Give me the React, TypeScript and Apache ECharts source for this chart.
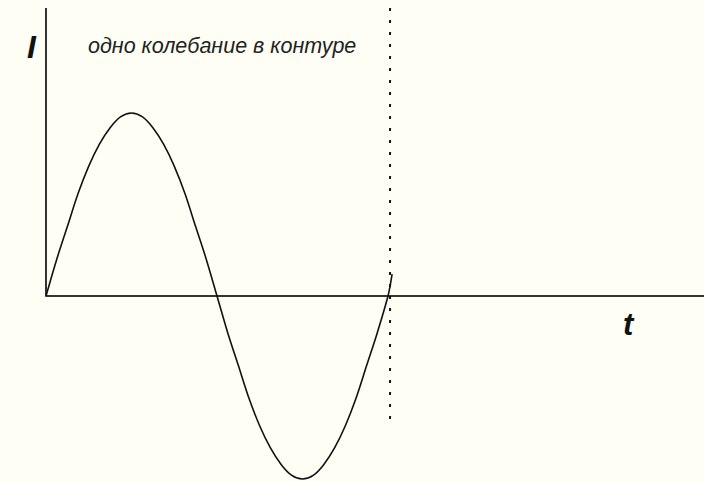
import React, { useEffect, useRef } from "react";
import * as echarts from "echarts";

// Time in periods T, current I in amplitude units
const timeValues = [
  0, 0.03125, 0.0625, 0.09375, 0.125, 0.15625, 0.1875, 0.21875, 0.25,
  0.28125, 0.3125, 0.34375, 0.375, 0.40625, 0.4375, 0.46875, 0.5,
  0.53125, 0.5625, 0.59375, 0.625, 0.65625, 0.6875, 0.71875, 0.75,
  0.78125, 0.8125, 0.84375, 0.875, 0.90625, 0.9375, 0.96875, 1.0, 1.012,
];
const currentValues = [
  0, 0.2, 0.38, 0.56, 0.71, 0.83, 0.92, 0.98, 1.0,
  0.98, 0.92, 0.83, 0.71, 0.56, 0.38, 0.2, 0,
  -0.2, -0.38, -0.56, -0.71, -0.83, -0.92, -0.98, -1.0,
  -0.98, -0.92, -0.83, -0.71, -0.56, -0.38, -0.2, 0, 0.12,
];
const periodMark = [1.006];
const periodMarkRange = [1.574, -0.689];
const axisRangeX = [0, 1.924];
const axisRangeY = [-1.016, 1.574];
const titleText = "одно колебание в контуре";
const yName = "I";
const xName = "t";

export default function App() {
  const ref = useRef<HTMLDivElement>(null);
  useEffect(() => {
    if (!ref.current) return;
    const chart = echarts.init(ref.current, null, { renderer: "svg" });
    const sine = timeValues.map((t, i) => [t, currentValues[i]]);
    chart.setOption({
      animation: false,
      backgroundColor: "#fefef4",
      grid: { left: 46, right: 0, top: 8, bottom: 0 },
      xAxis: {
        type: "value",
        min: axisRangeX[0],
        max: axisRangeX[1],
        axisLine: { show: true, onZero: true, lineStyle: { color: "#333", width: 2 } },
        axisTick: { show: false },
        axisLabel: { show: false },
        splitLine: { show: false },
      },
      yAxis: {
        type: "value",
        min: axisRangeY[0],
        max: axisRangeY[1],
        axisLine: { show: false },
        axisTick: { show: false },
        axisLabel: { show: false },
        splitLine: { show: false },
      },
      series: [
        {
          type: "line",
          data: [[0, 0], [0, axisRangeY[1]]],
          symbol: "none",
          lineStyle: { color: "#333", width: 2 },
          silent: true,
        },
        {
          type: "line",
          data: [[periodMark[0], periodMarkRange[0]], [periodMark[0], periodMarkRange[1]]],
          symbol: "none",
          lineStyle: { color: "#111", width: 2, type: [3, 9] },
          silent: true,
        },
        {
          type: "line",
          data: sine,
          smooth: 0.3,
          symbol: "none",
          lineStyle: { color: "#111", width: 1.6 },
        },
      ],
      graphic: [
        {
          type: "text",
          left: 88,
          top: 35,
          style: {
            text: titleText,
            font: "italic 21.5px 'Liberation Sans', Arial, sans-serif",
            fill: "#222",
          },
        },
        {
          type: "text",
          left: 27,
          top: 31,
          style: {
            text: yName,
            font: "italic bold 32px 'Liberation Sans', Arial, sans-serif",
            fill: "#111",
          },
        },
        {
          type: "text",
          left: 623,
          top: 309,
          style: {
            text: xName,
            font: "italic bold 31px 'Liberation Sans', Arial, sans-serif",
            fill: "#111",
          },
        },
      ],
    });
    return () => chart.dispose();
  }, []);
  return (
    <div
      ref={ref}
      style={{ position: "absolute", left: 0, top: 0, width: 704, height: 482 }}
    />
  );
}
